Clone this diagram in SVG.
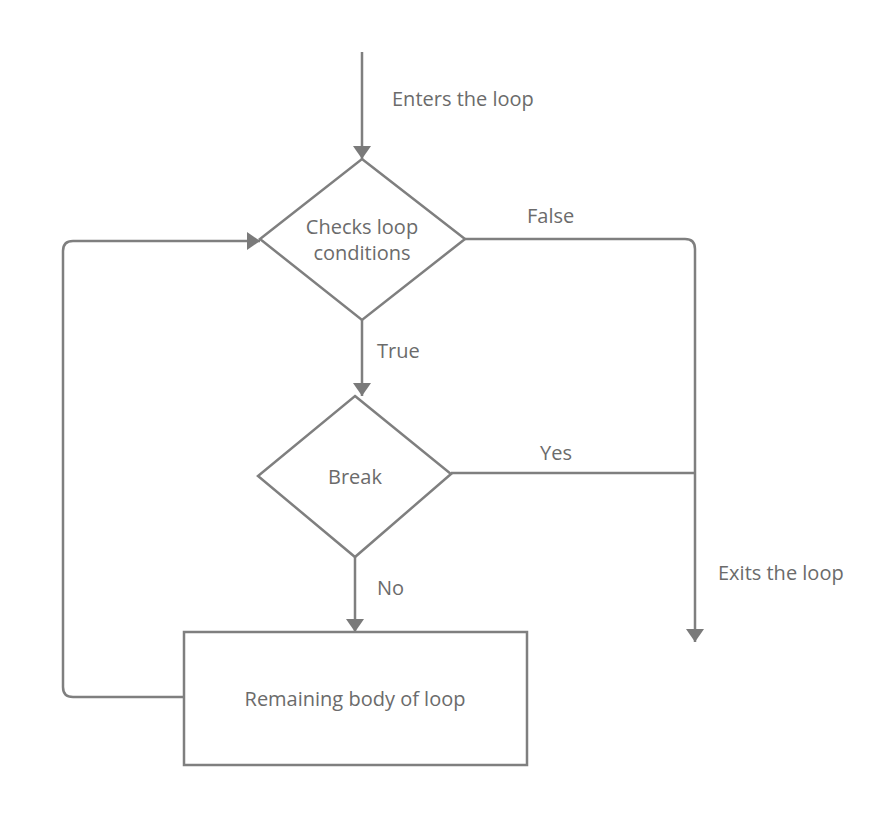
<svg xmlns="http://www.w3.org/2000/svg" width="883" height="823" viewBox="0 0 883 823">
<defs>
<marker id="arr" viewBox="0 0 13 18" refX="13" refY="9" markerWidth="13" markerHeight="18" markerUnits="userSpaceOnUse" orient="auto">
<path d="M0,0 L13,9 L0,18 Z" fill="#7a7a7a"/>
</marker>
<style>
.ln{fill:none;stroke:#7f7f7f;stroke-width:2.5;stroke-linejoin:round}
.sh{fill:#fff;stroke:#7f7f7f;stroke-width:2.5}
.t{font-family:"Open Sans","Noto Sans",sans-serif;font-size:20px;fill:#6b6b6b}
.c{text-anchor:middle}
</style>
</defs>
<rect width="883" height="823" fill="#fff"/>
<g id="connectors">
<path class="ln" d="M362,52 V159" marker-end="url(#arr)"/>
<path class="ln" d="M465,239 H685 Q695,239 695,249 V642" marker-end="url(#arr)"/>
<path class="ln" d="M362,320 V396" marker-end="url(#arr)"/>
<path class="ln" d="M451,473 H695"/>
<path class="ln" d="M355,557 V632" marker-end="url(#arr)"/>
<path class="ln" d="M184,697 H73 Q63,697 63,687 V251 Q63,241 73,241 H260" marker-end="url(#arr)"/>
<text class="t" x="392" y="106">Enters the loop</text>
<text class="t" x="527" y="223">False</text>
<text class="t" x="377" y="358">True</text>
<text class="t" x="540" y="460">Yes</text>
<text class="t" x="377" y="595">No</text>
<text class="t" x="718" y="580">Exits the loop</text>
</g>
<g id="checks">
<polygon class="sh" points="362,159 465,239 362,320 260,239"/>
<text class="t c" x="362" y="234">Checks loop</text>
<text class="t c" x="362" y="260">conditions</text>
</g>
<g id="break">
<polygon class="sh" points="355,396 451,474 355,557 258,476"/>
<text class="t c" x="355" y="484">Break</text>
</g>
<g id="body">
<rect class="sh" x="184" y="632" width="343" height="133"/>
<text class="t c" x="355" y="706">Remaining body of loop</text>
</g>
</svg>
